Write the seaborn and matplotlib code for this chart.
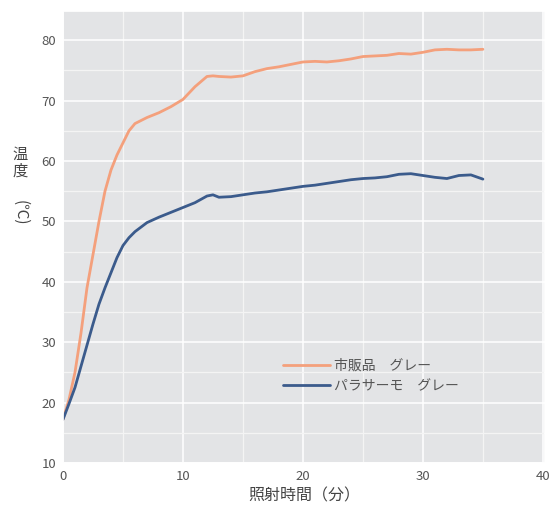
import pandas as pd
import seaborn as sns
import matplotlib.pyplot as plt
from matplotlib.ticker import MultipleLocator

# 照射時間（分）と温度（℃）
t = [0, 0.5, 1.0, 1.5, 2.0, 2.5, 3.0, 3.5, 4.0, 4.5, 5.0, 5.5, 6.0, 7.0, 8.0, 9.0,
     10.0, 11.0, 12.0, 12.5, 13.0, 14.0, 15.0, 16.0, 17.0, 18.0, 19.0, 20.0, 21.0,
     22.0, 23.0, 24.0, 25.0, 26.0, 27.0, 28.0, 29.0, 30.0, 31.0, 32.0, 33.0, 34.0, 35.0]
shihan = [17.2, 20.5, 25.0, 31.5, 39.0, 44.5, 50.0, 55.0, 58.5, 61.0, 63.0, 65.0, 66.2,
          67.2, 68.0, 69.0, 70.2, 72.3, 74.0, 74.1, 74.0, 73.9, 74.1, 74.8, 75.3, 75.6,
          76.0, 76.4, 76.5, 76.4, 76.6, 76.9, 77.3, 77.4, 77.5, 77.8, 77.7, 78.0, 78.4,
          78.5, 78.4, 78.4, 78.5]
parathermo = [17.2, 19.8, 22.5, 26.0, 29.5, 33.0, 36.3, 39.0, 41.5, 44.0, 46.0, 47.3, 48.3,
              49.8, 50.7, 51.5, 52.3, 53.1, 54.2, 54.4, 54.0, 54.1, 54.4, 54.7, 54.9, 55.2,
              55.5, 55.8, 56.0, 56.3, 56.6, 56.9, 57.1, 57.2, 57.4, 57.8, 57.9, 57.6, 57.3,
              57.1, 57.6, 57.7, 57.0]
labels = ["市販品　グレー", "パラサーモ　グレー"]
colors = ["#f4a07c", "#3b5b8c"]

df = pd.concat([
    pd.DataFrame({"時間": t, "温度": shihan, "種類": labels[0]}),
    pd.DataFrame({"時間": t, "温度": parathermo, "種類": labels[1]}),
])

sns.set_theme(style="darkgrid")
plt.rcParams["font.family"] = ["Noto Sans CJK JP", "DejaVu Sans"]

fig = plt.figure(figsize=(5.55, 5.11), dpi=100)
ax = fig.add_axes([0.1135, 0.094, 0.869, 0.884])
ax.set_facecolor("#e3e4e6")

sns.lineplot(data=df, x="時間", y="温度", hue="種類", palette=colors,
             linewidth=2, ax=ax)

ax.set_xlim(0, 40.2)
ax.set_ylim(10, 84.8)
ax.xaxis.set_major_locator(MultipleLocator(10))
ax.yaxis.set_major_locator(MultipleLocator(10))
ax.xaxis.set_minor_locator(MultipleLocator(5))
ax.yaxis.set_minor_locator(MultipleLocator(5))
ax.grid(which="major", color="white", linewidth=1.1)
ax.grid(which="minor", color="#f4f4f4", linewidth=0.9)
ax.tick_params(labelsize=9.5, colors="#555555", length=0, pad=5)

ax.set_xlabel("照射時間（分）", fontsize=11.5, color="#444444", labelpad=3)
ax.set_ylabel("")
# 縦書きの軸ラベル：「温度」は縦に積み、（℃）は回転
ax.text(-0.088, 0.664, "温\n度", transform=ax.transAxes, ha="center",
        va="center", fontsize=11, color="#444444", linespacing=1.0)
ax.text(-0.088, 0.553, "(℃)", transform=ax.transAxes, ha="center",
        va="center", fontsize=11, color="#444444", rotation=270)

ax.legend(loc="center left", bbox_to_anchor=(0.43, 0.193), frameon=False,
          fontsize=10, handlelength=3.4, handletextpad=0.3, labelspacing=0.45,
          title=None, labelcolor="#555555")

fig.savefig("out.png", dpi=100)
